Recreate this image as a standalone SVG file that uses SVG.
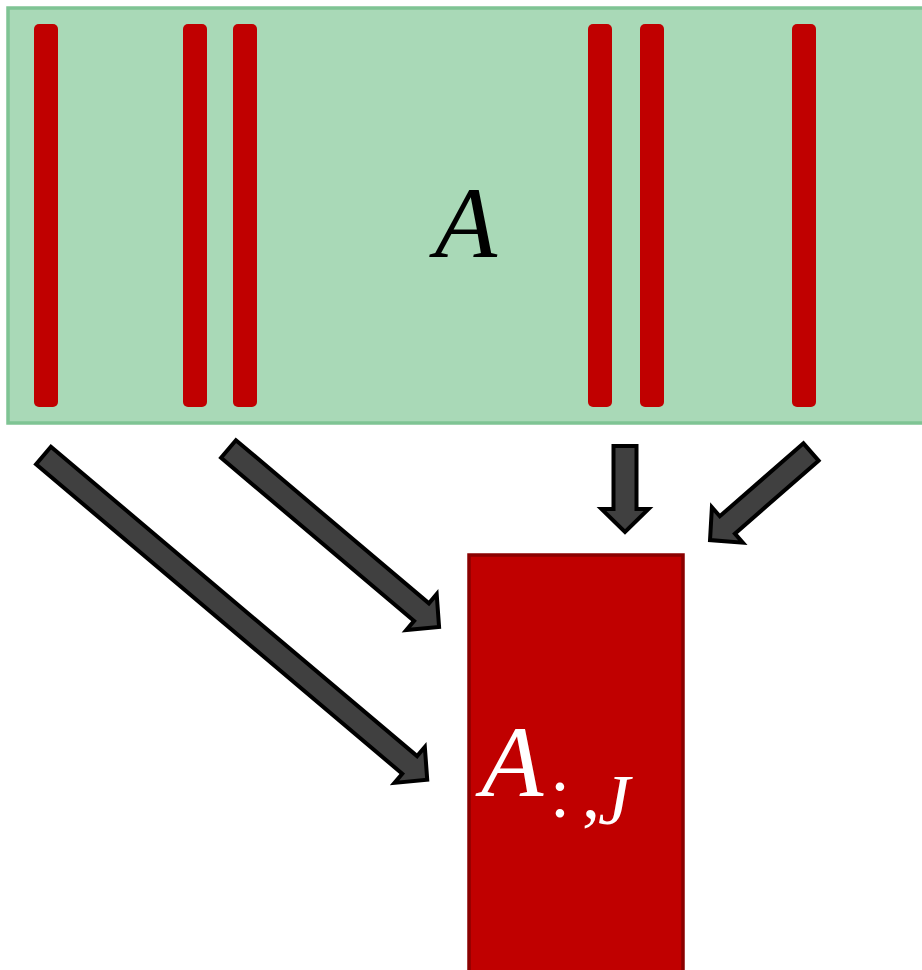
<svg xmlns="http://www.w3.org/2000/svg" width="922" height="970" viewBox="0 0 922 970">
<style>
.bar{fill:#c00000}
.arrow{fill:#404040;stroke:#000;stroke-width:4;stroke-linejoin:miter}
.math{font-family:"Liberation Serif","DejaVu Serif",serif}
</style>
<rect x="0" y="0" width="922" height="970" fill="#fff"/>
<g id="matrixA">
<rect x="8" y="8" width="920" height="415" fill="#a9d9b7" stroke="#7fc494" stroke-width="3.5"/>
<rect class="bar" x="34" y="24" width="24" height="383" rx="5"/>
<rect class="bar" x="183" y="24" width="24" height="383" rx="5"/>
<rect class="bar" x="233" y="24" width="24" height="383" rx="5"/>
<rect class="bar" x="588" y="24" width="24" height="383" rx="5"/>
<rect class="bar" x="640" y="24" width="24" height="383" rx="5"/>
<rect class="bar" x="792" y="24" width="24" height="383" rx="5"/>
<text class="math" x="466" y="257" font-size="102" font-style="italic" text-anchor="middle" fill="#000">A</text>
</g>
<g id="connectors">
<polygon class="arrow" transform="translate(43.5,455.5) rotate(40.2)" points="0,-11.5 479.4,-11.5 479.4,-23.5 502.4,0 479.4,23.5 479.4,11.5 0,11.5"/>
<polygon class="arrow" transform="translate(228.5,449) rotate(40.2)" points="0,-11.5 252.7,-11.5 252.7,-23.5 275.7,0 252.7,23.5 252.7,11.5 0,11.5"/>
<polygon class="arrow" transform="translate(625,446) rotate(90)" points="0,-11.5 63,-11.5 63,-23.5 86,0 63,23.5 63,11.5 0,11.5"/>
<polygon class="arrow" transform="translate(811,452) rotate(138.9)" points="0,-11.5 111,-11.5 111,-23.5 134,0 111,23.5 111,11.5 0,11.5"/>
</g>
<g id="submatrix">
<rect x="469" y="555" width="214" height="420" fill="#c00000" stroke="#8b0000" stroke-width="3.5"/>
<text class="math" x="481" y="796" font-size="102" font-style="italic" fill="#fff">A</text>
<text class="math" fill="#fff" font-size="72"><tspan x="550" y="817">:</tspan><tspan x="582" y="817">,</tspan><tspan x="598" y="824" font-style="italic">J</tspan></text>
</g>
</svg>
